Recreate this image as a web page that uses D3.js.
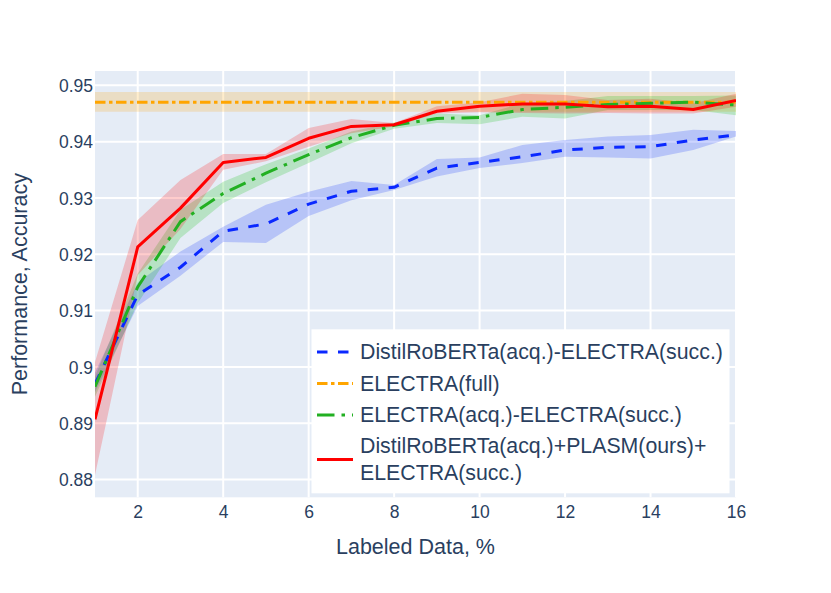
<!DOCTYPE html>
<html>
<head>
<meta charset="utf-8">
<script src="https://cdn.jsdelivr.net/npm/d3@7"></script>
<style>
  body { margin: 0; background: #fff; }
  text { font-family: "Liberation Sans", Arial, sans-serif; fill: #2a3f5f; }
</style>
</head>
<body>
<div id="container"></div>
<script>
// labeled data, %
const labeled = [1, 2, 3, 4, 5, 6, 7, 8, 9, 10, 11, 12, 13, 14, 15, 16];

// DistilRoBERTa(acq.)-ELECTRA(succ.)
const distil_mean  = [0.8970, 0.9128, 0.9177, 0.9241, 0.9254, 0.9289, 0.9312, 0.9319, 0.9353, 0.9363, 0.9373, 0.9385, 0.9390, 0.9391, 0.9403, 0.9412];
const distil_upper = [0.8990, 0.9150, 0.9205, 0.9249, 0.9288, 0.9311, 0.9330, 0.9323, 0.9369, 0.9372, 0.9394, 0.9403, 0.9409, 0.9412, 0.9421, 0.9419];
const distil_lower = [0.8955, 0.9108, 0.9162, 0.9222, 0.9220, 0.9268, 0.9296, 0.9314, 0.9338, 0.9353, 0.9362, 0.9373, 0.9372, 0.9370, 0.9385, 0.9409];

// ELECTRA(full)
const full_mean  = [0.9470, 0.9470, 0.9470, 0.9470, 0.9470, 0.9470, 0.9470, 0.9470, 0.9470, 0.9470, 0.9470, 0.9470, 0.9470, 0.9470, 0.9470, 0.9470];
const full_upper = [0.9488, 0.9488, 0.9488, 0.9488, 0.9488, 0.9488, 0.9488, 0.9488, 0.9488, 0.9488, 0.9488, 0.9488, 0.9488, 0.9488, 0.9488, 0.9488];
const full_lower = [0.9453, 0.9453, 0.9453, 0.9453, 0.9453, 0.9453, 0.9453, 0.9453, 0.9453, 0.9453, 0.9453, 0.9453, 0.9453, 0.9453, 0.9453, 0.9453];

// ELECTRA(acq.)-ELECTRA(succ.)
const electra_mean  = [0.8965, 0.9142, 0.9258, 0.9308, 0.9344, 0.9377, 0.9407, 0.9429, 0.9441, 0.9443, 0.9457, 0.9461, 0.9466, 0.9468, 0.9470, 0.9465];
const electra_upper = [0.8983, 0.9166, 0.9279, 0.9329, 0.9360, 0.9388, 0.9418, 0.9434, 0.9450, 0.9447, 0.9468, 0.9472, 0.9481, 0.9481, 0.9481, 0.9482];
const electra_lower = [0.8947, 0.9113, 0.9229, 0.9291, 0.9328, 0.9362, 0.9397, 0.9423, 0.9433, 0.9431, 0.9444, 0.9441, 0.9456, 0.9456, 0.9456, 0.9447];

// DistilRoBERTa(acq.)+PLASM(ours)+ELECTRA(succ.)
const plasm_mean  = [0.8907, 0.9213, 0.9282, 0.9363, 0.9372, 0.9406, 0.9427, 0.9430, 0.9454, 0.9463, 0.9467, 0.9467, 0.9462, 0.9463, 0.9457, 0.9473];
const plasm_upper = [0.9009, 0.9261, 0.9332, 0.9378, 0.9378, 0.9424, 0.9440, 0.9433, 0.9463, 0.9470, 0.9485, 0.9483, 0.9474, 0.9476, 0.9468, 0.9485];
const plasm_lower = [0.8808, 0.9163, 0.9245, 0.9350, 0.9365, 0.9391, 0.9415, 0.9427, 0.9450, 0.9452, 0.9451, 0.9450, 0.9451, 0.9450, 0.9450, 0.9462];

const x_ticks = [2, 4, 6, 8, 10, 12, 14, 16];
const y_ticks = [0.88, 0.89, 0.9, 0.91, 0.92, 0.93, 0.94, 0.95];

const series = [
  { name: ["DistilRoBERTa(acq.)-ELECTRA(succ.)"], mean: distil_mean, upper: distil_upper, lower: distil_lower,
    color: "#0a28ff", band: "rgba(0,40,255,0.2)", dash: "10.5,10.5" },
  { name: ["ELECTRA(full)"], mean: full_mean, upper: full_upper, lower: full_lower,
    color: "#ffa500", band: "rgba(255,165,0,0.2)", dash: "10.5,3.5,3.5,3.5" },
  { name: ["ELECTRA(acq.)-ELECTRA(succ.)"], mean: electra_mean, upper: electra_upper, lower: electra_lower,
    color: "#22b022", band: "rgba(0,190,0,0.2)", dash: "17.5,7,3.5,7" },
  { name: ["DistilRoBERTa(acq.)+PLASM(ours)+", "ELECTRA(succ.)"], mean: plasm_mean, upper: plasm_upper, lower: plasm_lower,
    color: "#ff0000", band: "rgba(255,0,0,0.2)", dash: null }
];

const width = 831, height = 593;
const plot_box = { left: 95, right: 736, top: 71, bottom: 497.3 };

const svg = d3.select("#container")
  .append("svg")
  .attr("width", width)
  .attr("height", height);

const x = d3.scaleLinear()
  .domain([1, 16])
  .range([plot_box.left, plot_box.right]);

const y = d3.scaleLinear()
  .domain([0.87686, 0.95254])
  .range([plot_box.bottom, plot_box.top]);

// background
svg.append("rect")
  .attr("x", plot_box.left)
  .attr("y", plot_box.top)
  .attr("width", plot_box.right - plot_box.left)
  .attr("height", plot_box.bottom - plot_box.top)
  .attr("fill", "#e5ecf6");

// grid
const grid = svg.append("g").attr("class", "grid");

grid.selectAll(".gx")
  .data(x_ticks)
  .enter()
  .append("line")
  .attr("x1", d => x(d)).attr("x2", d => x(d))
  .attr("y1", plot_box.top).attr("y2", plot_box.bottom)
  .attr("stroke", "#fff")
  .attr("stroke-width", 2);

grid.selectAll(".gy")
  .data(y_ticks)
  .enter()
  .append("line")
  .attr("x1", plot_box.left).attr("x2", plot_box.right)
  .attr("y1", d => y(d)).attr("y2", d => y(d))
  .attr("stroke", "#fff")
  .attr("stroke-width", 2);

svg.append("clipPath").attr("id", "clip")
  .append("rect")
  .attr("x", plot_box.left)
  .attr("y", plot_box.top)
  .attr("width", plot_box.right - plot_box.left)
  .attr("height", plot_box.bottom - plot_box.top);

const plot = svg.append("g").attr("clip-path", "url(#clip)");

const area = d3.area()
  .x((d, i) => x(labeled[i]))
  .y0(d => y(d[0]))
  .y1(d => y(d[1]));

const line = d3.line()
  .x((d, i) => x(labeled[i]))
  .y(d => y(d));

// bands
plot.selectAll(".band")
  .data(series)
  .enter()
  .append("path")
  .attr("class", "band")
  .attr("d", s => area(s.lower.map((v, i) => [v, s.upper[i]])))
  .attr("fill", s => s.band)
  .attr("stroke", "none");

// lines
plot.selectAll(".mean")
  .data(series)
  .enter()
  .append("path")
  .attr("class", "mean")
  .attr("d", s => line(s.mean))
  .attr("fill", "none")
  .attr("stroke", s => s.color)
  .attr("stroke-width", 3)
  .attr("stroke-linejoin", "round")
  .attr("stroke-dasharray", s => s.dash);

// axes
const xAxis = d3.axisBottom(x)
  .tickValues(x_ticks)
  .tickSize(0)
  .tickPadding(0)
  .tickFormat(d3.format("d"));

const xAxis_box = svg.append("g")
  .attr("transform", "translate(0," + plot_box.bottom + ")")
  .call(xAxis);
xAxis_box.select(".domain").remove();
xAxis_box.selectAll("text")
  .attr("y", 20.5)
  .attr("dy", null)
  .style("font-size", "17.5px")
  .attr("fill", "#2a3f5f");

const yAxis = d3.axisLeft(y)
  .tickValues(y_ticks)
  .tickSize(0)
  .tickPadding(0)
  .tickFormat(d => d3.format("")(+d.toFixed(2)));

const yAxis_box = svg.append("g")
  .attr("transform", "translate(" + plot_box.left + ",0)")
  .call(yAxis);
yAxis_box.select(".domain").remove();
yAxis_box.selectAll("text")
  .attr("x", -2)
  .attr("dy", "0.35em")
  .style("font-size", "17.5px")
  .attr("fill", "#2a3f5f");

// axis titles
svg.append("text")
  .attr("x", (plot_box.left + plot_box.right) / 2)
  .attr("y", 554)
  .attr("text-anchor", "middle")
  .style("font-size", "21.5px")
  .text("Labeled Data, %");

svg.append("text")
  .attr("transform", "translate(27," + ((plot_box.top + plot_box.bottom) / 2) + ") rotate(-90)")
  .attr("text-anchor", "middle")
  .style("font-size", "21.5px")
  .text("Performance, Accuracy");

// legend
const legend = svg.append("g").attr("class", "legend");

legend.append("rect")
  .attr("x", 311.5)
  .attr("y", 329.3)
  .attr("width", 418)
  .attr("height", 164)
  .attr("fill", "#fff");

const row_y = [352, 383.5, 415, 446];
const line_gap = 27;

const items = legend.selectAll(".item")
  .data(series)
  .enter()
  .append("g")
  .attr("class", "item");

items.append("line")
  .attr("x1", 317)
  .attr("x2", 353)
  .attr("y1", (s, i) => row_y[i] + (s.name.length - 1) * line_gap / 2)
  .attr("y2", (s, i) => row_y[i] + (s.name.length - 1) * line_gap / 2)
  .attr("stroke", s => s.color)
  .attr("stroke-width", 3)
  .attr("stroke-dasharray", s => s.dash);

items.append("text")
  .attr("x", 360)
  .attr("y", (s, i) => row_y[i])
  .style("font-size", "21.3px")
  .selectAll("tspan")
  .data(s => s.name)
  .enter()
  .append("tspan")
  .attr("x", 360)
  .attr("dy", (d, j) => j === 0 ? "0.35em" : line_gap)
  .text(d => d);
</script>
</body>
</html>
